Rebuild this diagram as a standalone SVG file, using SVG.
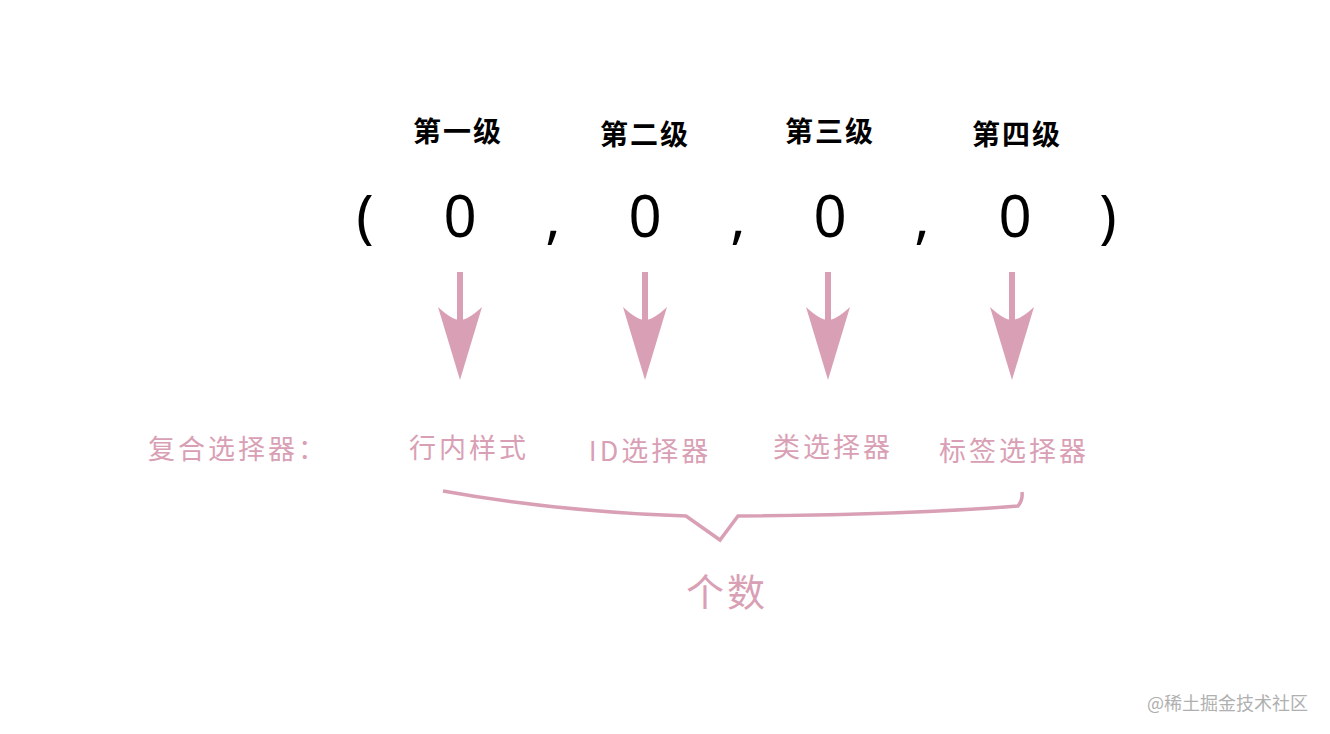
<svg xmlns="http://www.w3.org/2000/svg" width="1330" height="734" viewBox="0 0 1330 734">
<style>
.h{font-family:"Noto Sans CJK SC",sans-serif;font-weight:bold;font-size:28px;fill:#000;text-anchor:middle;letter-spacing:2px}
.n{font-family:"Noto Sans","Liberation Sans",sans-serif;font-size:58px;fill:#000;text-anchor:middle}
.p{font-family:"Noto Sans CJK SC",sans-serif;font-size:27px;fill:#d9a0b5;text-anchor:middle;letter-spacing:3px}
.a{fill:#d9a0b5}
.s{stroke:#d9a0b5;stroke-width:6;fill:none}
</style>
<rect width="1330" height="734" fill="#fff"/>
<defs>
<g id="arr"><line class="s" x1="0" y1="272" x2="0" y2="320"/><path class="a" d="M0,380 L-22,307 Q-8,320 0,320 Q8,320 22,307 Z"/></g>
</defs>
<g id="headers">
<text class="h" x="458" y="142">第一级</text>
<text class="h" x="645" y="145">第二级</text>
<text class="h" x="830" y="142">第三级</text>
<text class="h" x="1017" y="145">第四级</text>
</g>
<g id="tuple">
<text class="n" x="365" y="237">(</text>
<text class="n" x="460" y="237">0</text>
<text class="n" x="553" y="237">,</text>
<text class="n" x="645" y="237">0</text>
<text class="n" x="738" y="237">,</text>
<text class="n" x="830" y="237">0</text>
<text class="n" x="922" y="237">,</text>
<text class="n" x="1015" y="237">0</text>
<text class="n" x="1108" y="237">)</text>
</g>
<g id="connectors">
<use href="#arr" x="460"/>
<use href="#arr" x="645"/>
<use href="#arr" x="828"/>
<use href="#arr" x="1012"/>
<path d="M443,491 Q560,512 686,516 L720,540 L738,516 Q900,515 1018,506 Q1023,500 1022,492" stroke="#d9a0b5" stroke-width="3.5" fill="none"/>
</g>
<g id="labels">
<text class="p" x="238" y="459">复合选择器：</text>
<text class="p" x="469" y="458">行内样式</text>
<text class="p" x="650" y="461">ID选择器</text>
<text class="p" x="833" y="457">类选择器</text>
<text class="p" x="1014" y="461">标签选择器</text>
<text class="p" x="727" y="606" style="font-size:38px">个数</text>
</g>
<text x="1308" y="710" style="font-family:'Noto Sans CJK SC',sans-serif;font-size:18px;fill:#b0b0b0;text-anchor:end">@稀土掘金技术社区</text>
</svg>
